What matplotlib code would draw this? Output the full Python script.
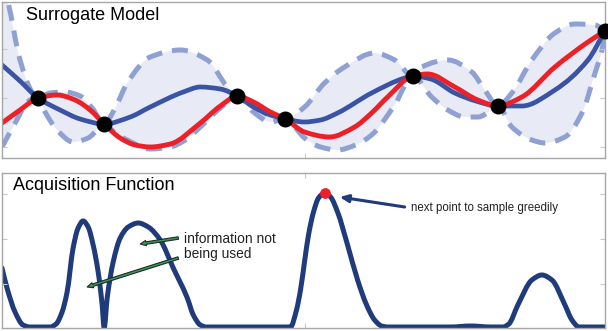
import numpy as np
import matplotlib
matplotlib.use("Agg")
import matplotlib.pyplot as plt
from matplotlib.path import Path
from matplotlib.patches import PathPatch

plt.rcParams['font.family'] = ['Liberation Sans', 'DejaVu Sans']

# ---- surrogate model (top panel) ----
mean_x = [0, 18, 36, 58, 78, 102, 128, 148, 181, 198, 218, 235, 251, 268, 283, 302, 318, 335,
          369, 402, 410, 428, 452, 473, 495, 519, 552, 585, 602]
mean_y = [93, 77, 60, 48, 39, 34, 41, 51, 66, 71, 69, 62, 51, 43, 39, 36, 38, 45,
          65, 80, 82, 79, 65, 57, 52, 52, 68, 98, 127]

true_x = [0, 18, 36, 55, 73, 88, 102, 118, 133, 148, 168, 198, 218, 235, 251, 268, 283, 302,
          327, 352, 369, 385, 410, 425, 452, 475, 495, 519, 552, 585, 602]
true_y = [35, 48, 60, 63, 58, 48, 34, 20, 13, 11, 14, 35, 52, 62, 56, 46, 39, 26,
          21, 31, 45, 61, 82, 84, 71, 58, 52, 61, 91, 116, 127]

upper_x = [0, 6, 18, 30, 36, 48, 63, 78, 90, 102, 113, 125, 148, 178, 205, 225, 235, 251, 268,
           283, 302, 322, 342, 372, 392, 410, 419, 445, 469, 482, 495, 509, 529, 552, 572, 592, 602]
upper_y = [178, 156, 98, 66, 60, 65, 66, 62, 50, 34, 50, 75, 101, 108, 98, 71, 62, 52, 42,
           39, 51, 75, 91, 105, 98, 82, 91, 98, 86, 68, 52, 65, 98, 125, 134, 133, 127]

lower_x = [0, 11, 28, 36, 43, 55, 71, 86, 95, 102, 113, 125, 148, 168, 183, 198, 218, 235, 251,
           268, 283, 293, 302, 318, 335, 353, 369, 392, 410, 429, 445, 462, 475, 489, 495, 509,
           529, 542, 562, 579, 592, 599, 602]
lower_y = [11, 31, 58, 60, 46, 28, 16, 20, 28, 34, 25, 18, 9, 11, 18, 31, 50, 62, 46,
           36, 39, 30, 20, 11, 8, 13, 23, 53, 82, 61, 48, 41, 41, 48, 52, 31,
           18, 15, 21, 45, 85, 108, 127]

obs_x = [36, 102, 235, 283, 410, 495, 602]
obs_y = [60, 34, 62, 39, 82, 52, 127]

# ---- acquisition function (bottom panel) ----
acq_x = [0, 5, 13, 21, 28, 48, 54, 60, 65, 71, 76, 81, 86, 91, 96, 100, 102,
         105, 111, 118, 126, 136, 146, 158, 171, 185, 191, 198, 204, 288,
         294, 298, 302, 306, 311, 316, 322, 328, 335, 345, 355, 364, 372, 379, 385,
         448, 468, 488, 500, 506, 515, 529, 539, 549, 562, 569, 576, 602]
acq_y = [60, 40, 16, 3, 1, 1, 4, 16, 36, 80, 100, 107, 101, 83, 56, 23, 0,
         30, 66, 90, 101, 105, 101, 88, 60, 30, 13, 3, 1, 1,
         18, 38, 66, 93, 116, 130, 135, 131, 116, 83, 48, 23, 8, 2, 1,
         1, 2, 1, 1, 4, 23, 48, 53, 48, 23, 8, 1, 1]

next_x, next_y = 322, 135

blue = "#3a53a4"
red = "#ec2027"
band = "#e8ebf5"
dash = "#8fa0d2"
navy = "#1f3b7c"
frame = "#a6a6a6"


def smooth_path(x, y):
    # monotone cubic bezier through the points (drawn smooth, like a "smooth" line option)
    x = np.asarray(x, float)
    y = np.asarray(y, float)
    h = np.diff(x)
    d = np.diff(y) / h
    m = np.zeros_like(y)
    m[0], m[-1] = d[0], d[-1]
    for k in range(1, len(x) - 1):
        if d[k - 1] * d[k] > 0:
            w1 = 2 * h[k] + h[k - 1]
            w2 = h[k] + 2 * h[k - 1]
            m[k] = (w1 + w2) / (w1 / d[k - 1] + w2 / d[k])
    verts = [(x[0], y[0])]
    codes = [Path.MOVETO]
    for k in range(len(x) - 1):
        verts += [(x[k] + h[k] / 3, y[k] + m[k] * h[k] / 3),
                  (x[k + 1] - h[k] / 3, y[k + 1] - m[k + 1] * h[k] / 3),
                  (x[k + 1], y[k + 1])]
        codes += [Path.CURVE4] * 3
    return verts, codes


def add_curve(ax, x, y, **kw):
    v, c = smooth_path(x, y)
    ax.add_patch(PathPatch(Path(v, c), fill=False, **kw))


fig = plt.figure(figsize=(6.08, 3.31), dpi=100)
ax1 = fig.add_axes([2 / 608, 1 - 158 / 331, 603 / 608, 156 / 331])
ax2 = fig.add_axes([2 / 608, 1 - 328 / 331, 603 / 608, 155 / 331])

# top panel: confidence band (upper edge forward, lower edge back)
vu, cu = smooth_path(upper_x, upper_y)
vl, cl = smooth_path(lower_x, lower_y)
vl_rev = vl[::-1]
band_verts = vu + vl_rev + [vu[0]]
band_codes = cu + [Path.LINETO] + [Path.CURVE4] * (len(vl_rev) - 1) + [Path.CLOSEPOLY]
ax1.add_patch(PathPatch(Path(band_verts, band_codes), facecolor=band, lw=0))

add_curve(ax1, upper_x, upper_y, edgecolor=dash, lw=3.6, linestyle=(0, (3.2, 2.0)))
add_curve(ax1, lower_x, lower_y, edgecolor=dash, lw=3.6, linestyle=(0, (3.2, 2.0)))
add_curve(ax1, mean_x, mean_y, edgecolor=blue, lw=3.4, capstyle='round')
add_curve(ax1, true_x, true_y, edgecolor=red, lw=3.5, capstyle='round')
ax1.scatter(obs_x, obs_y, s=110, color='black', zorder=5, clip_on=False)
ax1.set_xlim(0, 602)
ax1.set_ylim(0, 156)
ax1.text(24, 142, "Surrogate Model", fontsize=13, va='center', ha='left')

# bottom panel
add_curve(ax2, acq_x, acq_y, edgecolor=navy, lw=3.6, capstyle='round')
ax2.scatter([next_x], [next_y], s=45, color=red, zorder=5, clip_on=False)
ax2.set_xlim(0, 602)
ax2.set_ylim(0, 155)
ax2.text(11, 143, "Acquisition Function", fontsize=13, va='center', ha='left')

ax2.text(408, 120, "next point to sample greedily", fontsize=8.3, va='center', ha='left',
         color='#222222')
ax2.annotate("", xy=(337, 131), xytext=(402, 121),
             arrowprops=dict(arrowstyle="-|>,head_length=0.5,head_width=0.22",
                             color=navy, lw=2.2, shrinkA=0, shrinkB=0))

ax2.text(182, 81.5, "information not\nbeing used", fontsize=9.9, va='center', ha='left',
         color='#222222', linespacing=1.15)
green_arrow = dict(arrowstyle="simple,head_length=0.42,head_width=0.38,tail_width=0.18",
                   fc="#3c9a55", ec="#1d2a2a", lw=0.8, shrinkA=0, shrinkB=0)
ax2.annotate("", xy=(138, 84), xytext=(176, 90), arrowprops=green_arrow)
ax2.annotate("", xy=(85, 41), xytext=(176, 70), arrowprops=green_arrow)

for ax, yt in ((ax1, [11, 60, 109]), (ax2, [44, 89, 134])):
    ax.set_xticks([302])
    ax.set_yticks(yt)
    ax.tick_params(direction='in', length=3.6, width=0.8, color='#c8c8c8',
                   left=True, right=True, top=False, bottom=True,
                   labelleft=False, labelbottom=False)
    for s in ax.spines.values():
        s.set_color(frame)
        s.set_linewidth(1.0)
ax2.tick_params(top=True)

fig.savefig("out.png", dpi=100)
